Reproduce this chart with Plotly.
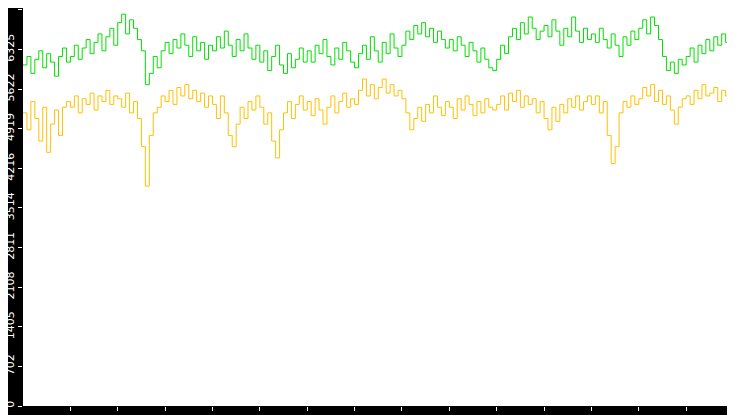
import pandas as pd
import plotly.graph_objects as go

# values sampled every 5 s from 14:00:00
green = [
    6050, 6200, 5900, 6150, 6300, 6000, 6250, 6100, 5850, 6200, 6350, 6100,
    6200, 6400, 6150, 6350, 6500, 6250, 6450, 6600, 6300, 6550, 6700, 6400,
    6800, 6950, 6600, 6850, 6700, 6500, 6300, 5700, 5900, 6200, 6000, 6300,
    6450, 6250, 6500, 6350, 6600, 6400, 6200, 6550, 6300, 6450, 6150, 6400,
    6300, 6550, 6350, 6650, 6400, 6200, 6500, 6300, 6600, 6350, 6150, 6400,
    6100, 6300, 5950, 6200, 6400, 6050, 5900, 6250, 6000, 6150, 6350, 6100,
    6300, 6100, 6400, 6250, 6500, 6200, 6050, 6350, 6150, 6450, 6300, 6100,
    6000, 6250, 6400, 6150, 6550, 6300, 6100, 6450, 6250, 6600, 6350, 6200,
    6400, 6650, 6500, 6750, 6600, 6800, 6550, 6700, 6450, 6650, 6500, 6350,
    6500, 6300, 6550, 6400, 6200, 6450, 6300, 6100, 6350, 6150, 6000, 5950,
    6150, 6400, 6250, 6550, 6700, 6500, 6800, 6600, 6900, 6700, 6500, 6650,
    6750, 6550, 6850, 6650, 6400, 6700, 6550, 6900, 6650, 6450, 6700, 6500,
    6600, 6450, 6700, 6500, 6350, 6600, 6400, 6200, 6550, 6400, 6650, 6500,
    6700, 6850, 6600, 6900, 6750, 6500, 6200, 5950, 6100, 5900, 6150, 6050,
    6200, 6350, 6100, 6400, 6250, 6500, 6300, 6550, 6400, 6600, 6450, 6500,
    6400, 2900,
]
yellow = [
    5200, 4900, 5400, 5100, 4700, 5300, 4500, 5000, 5250, 4800, 5300, 5400,
    5300, 5500, 5200, 5450, 5350, 5550, 5250, 5500, 5400, 5600, 5350, 5500,
    5450, 5300, 5550, 5200, 5400, 5100, 4600, 3900, 4800, 5200, 5300, 5500,
    5400, 5600, 5350, 5650, 5500, 5700, 5450, 5600, 5400, 5550, 5300, 5500,
    5350, 5100, 5500, 5200, 4800, 4600, 5000, 5300, 5100, 5400, 5250, 5500,
    5300, 5000, 5200, 4700, 4400, 4900, 5200, 5400, 5100, 5350, 5500, 5250,
    5400, 5150, 5450, 5250, 5000, 5300, 5500, 5200, 5400, 5550, 5300, 5450,
    5350, 5600, 5800, 5500, 5700, 5450, 5650, 5800, 5550, 5700, 5500, 5600,
    5450, 5200, 4900, 5100, 5300, 5050, 5350, 5200, 5500, 5300, 5150, 5400,
    5300, 5100, 5450, 5250, 5500, 5350, 5150, 5400, 5200, 5450, 5300, 5250,
    5350, 5500, 5250, 5550, 5400, 5600, 5300, 5500, 5350, 5450, 5200, 5400,
    5100, 4900, 5300, 5050, 5350, 5200, 5450, 5300, 5500, 5250, 5400, 5500,
    5350, 5500, 5200, 5400, 4800, 4300, 4600, 5200, 5400, 5300, 5500, 5350,
    5450, 5650, 5500, 5700, 5400, 5600, 5350, 5500, 5250, 5000, 5300, 5450,
    5500, 5350, 5600, 5450, 5700, 5500, 5550, 5650, 5400, 5600, 5500, 5700,
    5600, 0,
]
times = pd.date_range("2024-01-01 14:00:00", periods=len(green), freq="5s")
x_ticks = pd.date_range("2024-01-01 14:01:00", periods=15, freq="60s")
y_ticks = [0, 702, 1405, 2108, 2811, 3514, 4216, 4919, 5622, 6325, 7028]

fig = go.Figure()
fig.add_trace(go.Scatter(x=times, y=green, mode="lines", line_shape="hv",
                         line=dict(color="#00e000", width=1)))
fig.add_trace(go.Scatter(x=times, y=yellow, mode="lines", line_shape="hv",
                         line=dict(color="#ffc000", width=1)))

fig.update_layout(
    width=735, height=415, showlegend=False,
    paper_bgcolor="black", plot_bgcolor="white",
    margin=dict(l=15, r=0, t=0, b=17, autoexpand=False),
    font=dict(family="DejaVu Sans", size=11, color="white"),
)
fig.update_xaxes(
    range=["2024-01-01 14:00:00", "2024-01-01 14:15:12"],
    tickvals=x_ticks, tickformat="%H:%M", ticks="outside", ticklen=4,
    tickcolor="white", showgrid=False, zeroline=False, showline=False,
    automargin=False, ticklabelstandoff=0,
)
fig.update_yaxes(
    range=[0, 7060], tickvals=y_ticks, ticks="outside", ticklen=4,
    tickcolor="white", tickangle=-90, showgrid=False, zeroline=False,
    automargin=False, ticklabelstandoff=0,
)
fig.write_html("out.html")
